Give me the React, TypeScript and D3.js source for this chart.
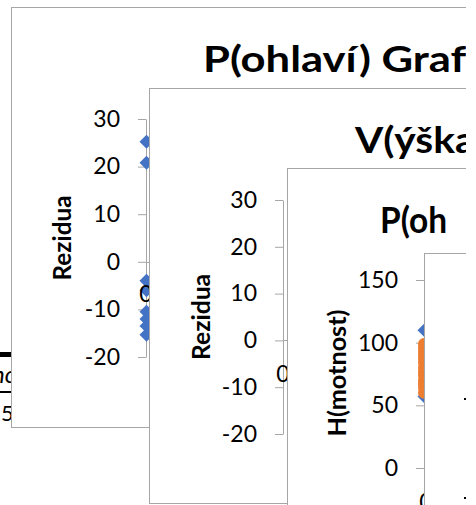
import React, { useEffect, useRef } from 'react';
import * as d3 from 'd3';

const W = 476;
const H = 505;

// residuals (Rezidua) vs pohlaví, visible points at pohlaví = 0
const resTicks = [-20, -10, 0, 10, 20, 30];
const pohlaviRes = [25.2, 20.8, -4, -6, -10.5, -12, -13.5, -15.3];

// hmotnost vs pohlaví
const hmotTicks = [0, 50, 100, 150];
const hmotnost = [110, 57];
const hmotPred = [99, 96, 93, 90, 87, 84, 80, 77, 74, 70, 67, 64, 60];

const xTickLabel = '0';

const FONT = 'Lato, "Open Sans", sans-serif';
const BORDER = '#a6a6a6';
const BLUE = '#4472c4';
const ORANGE = '#ed7d31';

const App = () => {
  const svgRef = useRef<SVGSVGElement>(null);

  useEffect(() => {
    const svg = d3.select(svgRef.current);
    svg.selectAll('*').remove();

    svg.append('rect').attr('width', W).attr('height', H).attr('fill', '#fff');

    // bits of whatever sits behind the first chart
    svg.append('rect').attr('x', 0).attr('y', 352).attr('width', 12).attr('height', 5).attr('fill', '#000');
    svg.append('text').attr('x', -8).attr('y', 383).attr('font-size', 24).attr('font-style', 'italic')
      .attr('font-family', FONT).text('no');
    svg.append('rect').attr('x', 0).attr('y', 391).attr('width', 12).attr('height', 2).attr('fill', '#000');
    svg.append('text').attr('x', 1).attr('y', 421).attr('font-size', 22).attr('font-family', FONT).text('5');

    const panel = (cfg: any) => {
      const g = svg.append('g');
      g.append('rect')
        .attr('x', cfg.left + 0.5).attr('y', cfg.top + 0.5)
        .attr('width', W + 60).attr('height', cfg.bottom - cfg.top)
        .attr('fill', '#fff').attr('stroke', BORDER);

      g.append('text')
        .attr('x', cfg.titleX).attr('y', cfg.titleY)
        .attr('font-family', FONT).attr('font-weight', 700).attr('font-size', 37)
        .attr('textLength', cfg.titleLen).attr('lengthAdjust', 'spacingAndGlyphs')
        .text(cfg.title);

      const y = d3.scaleLinear().domain(cfg.domain).range(cfg.range);
      const x = d3.scaleLinear().domain([0, 1]).range([cfg.axisX, cfg.axisX + 300]);

      const ax = g.append('g')
        .attr('transform', `translate(${cfg.axisX},0)`)
        .call(d3.axisLeft(y).tickValues(cfg.ticks).tickFormat((d: any) => String(d))
          .tickSize(8).tickSizeOuter(0).tickPadding(18));
      ax.attr('font-family', FONT).attr('font-size', 23);
      ax.select('.domain').attr('stroke', BORDER);
      ax.selectAll('.tick line').attr('stroke', BORDER);
      ax.selectAll('.tick text').attr('fill', '#000');

      // horizontal axis at y = 0
      g.append('line')
        .attr('x1', cfg.axisX).attr('x2', W + 50)
        .attr('y1', Math.round(y(0)) + 0.5).attr('y2', Math.round(y(0)) + 0.5)
        .attr('stroke', BORDER);

      const diamond = d3.symbol(d3.symbolDiamond2, 125);
      g.selectAll('path.pt')
        .data(cfg.points)
        .enter()
        .append('path')
        .attr('class', 'pt')
        .attr('d', diamond)
        .attr('transform', (d: number) => `translate(${x(0) + 0.5},${y(d)})`)
        .attr('fill', BLUE);

      if (cfg.pred) {
        g.selectAll('circle.pred')
          .data(cfg.pred)
          .enter()
          .append('circle')
          .attr('class', 'pred')
          .attr('cx', x(0))
          .attr('cy', (d: number) => y(d))
          .attr('r', 6)
          .attr('fill', ORANGE);
      }

      g.append('text')
        .attr('x', x(0) + cfg.xLabelShift).attr('y', y(0) + cfg.xLabelDy)
        .attr('text-anchor', 'middle')
        .attr('font-family', FONT).attr('font-size', 23)
        .text(xTickLabel);

      g.append('text')
        .attr('transform', `translate(${cfg.yTitleX},${cfg.yTitleY}) rotate(-90)`)
        .attr('text-anchor', 'middle')
        .attr('font-family', FONT).attr('font-weight', 700).attr('font-size', 25)
        .attr('textLength', cfg.yTitleLen).attr('lengthAdjust', 'spacingAndGlyphs')
        .text(cfg.yTitle);
    };

    panel({
      left: 11, top: 7, bottom: 427,
      title: 'P(ohlaví) Graf', titleX: 203, titleY: 72, titleLen: 263,
      domain: [-20, 30], range: [357, 119], ticks: resTicks, axisX: 146,
      points: pohlaviRes, xLabelShift: 0, xLabelDy: 40,
      yTitle: 'Rezidua', yTitleX: 71, yTitleY: 238, yTitleLen: 85,
    });

    panel({
      left: 149, top: 88, bottom: 503,
      title: 'V(ýška)', titleX: 355, titleY: 153, titleLen: 131,
      domain: [-20, 30], range: [434, 200], ticks: resTicks, axisX: 283,
      points: [], xLabelShift: 0, xLabelDy: 42,
      yTitle: 'Rezidua', yTitleX: 210, yTitleY: 317, yTitleLen: 86,
    });

    panel({
      left: 287, top: 168, bottom: 560,
      title: 'P(oh', titleX: 380, titleY: 233, titleLen: 67,
      domain: [0, 150], range: [468, 280], ticks: hmotTicks, axisX: 424,
      points: hmotnost, pred: hmotPred, xLabelShift: 2, xLabelDy: 42,
      yTitle: 'H(motnost)', yTitleX: 346, yTitleY: 373, yTitleLen: 127,
    });

    // chart lying on top of the third one
    svg.append('rect')
      .attr('x', 424.5).attr('y', 253.5)
      .attr('width', 100).attr('height', 300)
      .attr('fill', '#fff').attr('stroke', BORDER);

    svg.append('rect').attr('x', 466).attr('y', 0).attr('width', 10).attr('height', H).attr('fill', '#fff');
    svg.append('rect').attr('x', 464).attr('y', 398).attr('width', 2).attr('height', 2).attr('fill', '#000');
    svg.append('rect').attr('x', 464).attr('y', 497).attr('width', 2).attr('height', 2).attr('fill', '#000');
  }, []);

  return (
    <svg ref={svgRef} width={W} height={H} style={{ position: 'absolute', left: 0, top: 0 }}></svg>
  );
};

export default App;
